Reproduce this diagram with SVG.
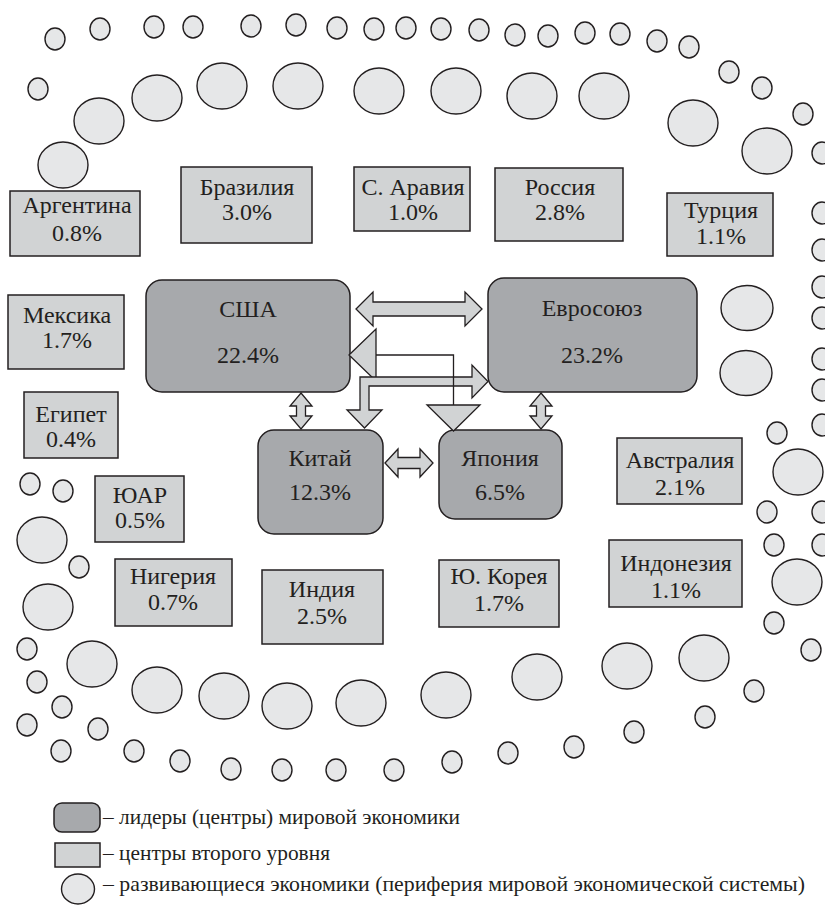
<svg xmlns="http://www.w3.org/2000/svg" width="825" height="905" viewBox="0 0 825 905">
<style>
.lead{fill:#a7a9ac;stroke:#231f20;stroke-width:1.5}
.sec{fill:#d1d3d4;stroke:#231f20;stroke-width:1.5}
.per ellipse{fill:#e6e7e8;stroke:#231f20;stroke-width:1.4}
.arr{fill:#d1d3d4;stroke:#231f20;stroke-width:1.3;stroke-linejoin:miter}
.ln{fill:none;stroke:#231f20;stroke-width:1.3}
.t{font-size:24px;text-anchor:middle;fill:#231f20}
.lg{font-size:21px;fill:#231f20}
</style>
<rect width="825" height="905" fill="#ffffff"/>
<g id="periphery" class="per">
<ellipse cx="55" cy="39" rx="10" ry="11"/><ellipse cx="100" cy="29" rx="10" ry="11"/><ellipse cx="154" cy="27" rx="10" ry="11"/><ellipse cx="193" cy="27" rx="10" ry="11"/><ellipse cx="251" cy="26" rx="10" ry="11"/><ellipse cx="296" cy="25" rx="10" ry="11"/><ellipse cx="337" cy="28" rx="10" ry="11"/><ellipse cx="374" cy="29" rx="10" ry="11"/><ellipse cx="406" cy="28" rx="10" ry="11"/><ellipse cx="441" cy="29" rx="10" ry="11"/><ellipse cx="479" cy="30" rx="10" ry="11"/><ellipse cx="515" cy="35" rx="10" ry="11"/><ellipse cx="548" cy="36" rx="10" ry="11"/><ellipse cx="585" cy="33" rx="10" ry="11"/><ellipse cx="620" cy="34" rx="10" ry="11"/><ellipse cx="657" cy="41" rx="10" ry="11"/><ellipse cx="689" cy="47" rx="10" ry="11"/>
<ellipse cx="729" cy="72" rx="10" ry="11"/><ellipse cx="762" cy="88" rx="10" ry="11"/><ellipse cx="803" cy="114" rx="10" ry="11"/><ellipse cx="822" cy="153" rx="10" ry="11"/>
<ellipse cx="38" cy="89" rx="10" ry="11"/>
<ellipse cx="63" cy="165" rx="25" ry="23"/><ellipse cx="99" cy="121" rx="25" ry="23"/><ellipse cx="157" cy="98" rx="25" ry="23"/><ellipse cx="222" cy="86" rx="25" ry="23"/><ellipse cx="298" cy="86" rx="25" ry="23"/><ellipse cx="379" cy="91" rx="25" ry="23"/><ellipse cx="456" cy="91" rx="25" ry="23"/><ellipse cx="532" cy="96" rx="25" ry="23"/><ellipse cx="604" cy="96" rx="25" ry="23"/><ellipse cx="693" cy="123" rx="25" ry="23"/><ellipse cx="767" cy="151" rx="25" ry="23"/>
<ellipse cx="747" cy="308" rx="26" ry="22.5"/><ellipse cx="746" cy="373" rx="26" ry="22.5"/>
<ellipse cx="822" cy="213" rx="10" ry="11"/><ellipse cx="822" cy="250" rx="10" ry="11"/><ellipse cx="822" cy="287" rx="10" ry="11"/><ellipse cx="822" cy="318" rx="10" ry="11"/><ellipse cx="822" cy="359" rx="10" ry="11"/><ellipse cx="822" cy="390" rx="10" ry="11"/><ellipse cx="822" cy="425" rx="10" ry="11"/><ellipse cx="822" cy="512" rx="10" ry="11"/><ellipse cx="822" cy="545" rx="10" ry="11"/>
<ellipse cx="777" cy="433" rx="10" ry="11"/><ellipse cx="798" cy="472" rx="25" ry="23"/><ellipse cx="767" cy="512" rx="10" ry="11"/><ellipse cx="774" cy="545" rx="10" ry="11"/><ellipse cx="797" cy="582" rx="25" ry="23"/><ellipse cx="774" cy="623" rx="10" ry="11"/><ellipse cx="811" cy="650" rx="10" ry="11"/>
<ellipse cx="30" cy="484" rx="10" ry="11"/><ellipse cx="63" cy="491" rx="10" ry="11"/><ellipse cx="42" cy="540" rx="25" ry="23"/><ellipse cx="79" cy="567" rx="10" ry="11"/><ellipse cx="48" cy="607" rx="25" ry="23"/>
<ellipse cx="27" cy="649" rx="10" ry="11"/><ellipse cx="92" cy="664" rx="25" ry="23"/><ellipse cx="37" cy="682" rx="10" ry="11"/><ellipse cx="62" cy="707" rx="10" ry="11"/><ellipse cx="27" cy="725" rx="10" ry="11"/><ellipse cx="98" cy="729" rx="10" ry="11"/><ellipse cx="61" cy="751" rx="10" ry="11"/><ellipse cx="134" cy="751" rx="10" ry="11"/><ellipse cx="180" cy="761" rx="10" ry="11"/><ellipse cx="231" cy="769" rx="10" ry="11"/><ellipse cx="282" cy="770" rx="10" ry="11"/><ellipse cx="336" cy="770" rx="10" ry="11"/><ellipse cx="394" cy="770" rx="10" ry="11"/><ellipse cx="452" cy="762" rx="10" ry="11"/><ellipse cx="508" cy="753" rx="10" ry="11"/><ellipse cx="574" cy="747" rx="10" ry="11"/><ellipse cx="634" cy="732" rx="10" ry="11"/><ellipse cx="705" cy="717" rx="10" ry="11"/><ellipse cx="754" cy="691" rx="10" ry="11"/>
<ellipse cx="157" cy="690" rx="25" ry="23"/><ellipse cx="224" cy="696" rx="25" ry="23"/><ellipse cx="287" cy="706" rx="25" ry="23"/><ellipse cx="361" cy="703" rx="25" ry="23"/><ellipse cx="446" cy="695" rx="25" ry="23"/><ellipse cx="537" cy="677" rx="25" ry="23"/><ellipse cx="627" cy="666" rx="25" ry="23"/><ellipse cx="704" cy="658" rx="25" ry="23"/>
</g>
<g font-family="'Liberation Serif', 'DejaVu Serif', serif">
<g id="argentina"><rect class="sec" x="10" y="191" width="130" height="65"/><text class="t" x="77" y="213">Аргентина</text><text class="t" x="77" y="241">0.8%</text></g>
<g id="brazil"><rect class="sec" x="181" y="167" width="131" height="76"/><text class="t" x="247" y="195">Бразилия</text><text class="t" x="247" y="220">3.0%</text></g>
<g id="saudi"><rect class="sec" x="354" y="167" width="116" height="64"/><text class="t" x="413" y="195">С. Аравия</text><text class="t" x="413" y="220">1.0%</text></g>
<g id="russia"><rect class="sec" x="495" y="168" width="128" height="73"/><text class="t" x="560" y="195">Россия</text><text class="t" x="560" y="220">2.8%</text></g>
<g id="turkey"><rect class="sec" x="667" y="193" width="106" height="63"/><text class="t" x="721" y="218">Турция</text><text class="t" x="721" y="244">1.1%</text></g>
<g id="mexico"><rect class="sec" x="8" y="295" width="116" height="74"/><text class="t" x="67" y="323">Мексика</text><text class="t" x="67" y="348">1.7%</text></g>
<g id="egypt"><rect class="sec" x="24" y="392" width="94" height="66"/><text class="t" x="71" y="422">Египет</text><text class="t" x="71" y="447">0.4%</text></g>
<g id="sar"><rect class="sec" x="95" y="476" width="89" height="66"/><text class="t" x="140" y="503">ЮАР</text><text class="t" x="140" y="528">0.5%</text></g>
<g id="nigeria"><rect class="sec" x="115" y="559" width="117" height="67"/><text class="t" x="173" y="584">Нигерия</text><text class="t" x="173" y="610">0.7%</text></g>
<g id="india"><rect class="sec" x="262" y="570" width="121" height="74"/><text class="t" x="322" y="597">Индия</text><text class="t" x="322" y="624">2.5%</text></g>
<g id="skorea"><rect class="sec" x="439" y="560" width="120" height="67"/><text class="t" x="499" y="584">Ю. Корея</text><text class="t" x="499" y="611">1.7%</text></g>
<g id="australia"><rect class="sec" x="617" y="438" width="125" height="66"/><text class="t" x="680" y="468">Австралия</text><text class="t" x="680" y="495">2.1%</text></g>
<g id="indonesia"><rect class="sec" x="609" y="540" width="133" height="67"/><text class="t" x="676" y="571">Индонезия</text><text class="t" x="676" y="598">1.1%</text></g>
<g id="usa"><rect class="lead" x="146" y="280" width="204" height="112" rx="16"/><text class="t" x="248" y="317">США</text><text class="t" x="248" y="363">22.4%</text></g>
<g id="eu"><rect class="lead" x="488" y="278" width="209" height="114" rx="16"/><text class="t" x="592" y="316">Евросоюз</text><text class="t" x="592" y="363">23.2%</text></g>
<g id="china"><rect class="lead" x="258" y="430" width="125" height="104" rx="16"/><text class="t" x="320" y="466">Китай</text><text class="t" x="320" y="500">12.3%</text></g>
<g id="japan"><rect class="lead" x="439" y="430" width="123" height="89" rx="16"/><text class="t" x="500" y="466">Япония</text><text class="t" x="500" y="500">6.5%</text></g>
<g id="legend">
<rect class="lead" x="54" y="803" width="46" height="29" rx="8"/>
<rect class="sec" x="55" y="843" width="45" height="24"/>
<ellipse cx="78" cy="889" rx="16.5" ry="15" fill="#e6e7e8" stroke="#231f20" stroke-width="1.4"/>
<text class="lg" x="103" y="824" textLength="357" lengthAdjust="spacingAndGlyphs">– лидеры (центры) мировой экономики</text>
<text class="lg" x="103" y="860" textLength="227" lengthAdjust="spacingAndGlyphs">– центры второго уровня</text>
<text class="lg" x="103" y="891" textLength="702" lengthAdjust="spacingAndGlyphs">– развивающиеся экономики (периферия мировой экономической системы)</text>
</g>
</g>
<g id="connectors">
<path class="arr" d="M356,309 L373,292 L373,302 L465,302 L465,292 L482,309 L465,326 L465,316 L373,316 L373,326 Z"/>
<path class="arr" d="M349,355 L376,329 L376,381 Z"/>
<path class="arr" d="M364.5,428 L347,410 L360,410 L360,377 L472,377 L472,365 L488,381.5 L472,398 L472,386 L369,386 L369,410 L382,410 Z"/>
<path class="arr" d="M427,405 L480,405 L453.5,431 Z"/>
<path class="ln" d="M376,355 L453.5,355 L453.5,405"/>
<path class="arr" d="M301,393 L312,406 L305.5,406 L305.5,416 L312,416 L301,429 L290,416 L296.5,416 L296.5,406 L290,406 Z"/>
<path class="arr" d="M541,393 L552,406 L545.5,406 L545.5,416 L552,416 L541,429 L530,416 L536.5,416 L536.5,406 L530,406 Z"/>
<path class="arr" d="M385,463 L398,449 L398,457.5 L420,457.5 L420,449 L433,463 L420,477 L420,468.5 L398,468.5 L398,477 Z"/>
</g>
</svg>
